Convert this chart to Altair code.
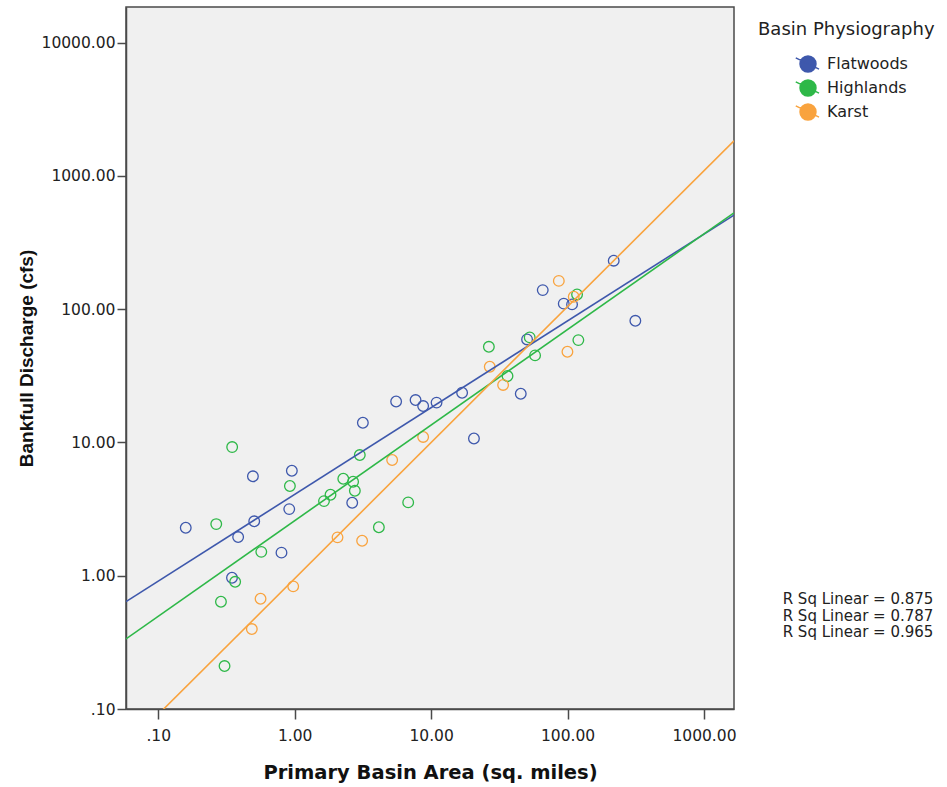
import numpy as np
import pandas as pd
import altair as alt

# Basin groups and their colours
basins = ["Flatwoods", "Highlands", "Karst"]
colors = ["#3E58AC", "#2EB848", "#F9A33E"]
r_squared = [0.875, 0.787, 0.965]

# Primary basin area (sq. miles) and bankfull discharge (cfs) per basin group
flatwoods_area = [0.159, 0.385, 0.505, 0.494, 0.953, 0.912, 0.80, 0.347, 2.64, 3.16,
                  5.54, 7.69, 8.74, 10.96, 16.87, 20.6, 45.4, 50.5, 65.8, 93.8,
                  107.9, 218, 314]
flatwoods_q = [2.29, 1.95, 2.56, 5.57, 6.13, 3.16, 1.49, 0.966, 3.53, 14.06,
               20.3, 20.8, 18.75, 19.9, 23.6, 10.7, 23.2, 59.3, 139, 110,
               108.6, 231, 81.8]
highlands_area = [0.348, 0.922, 0.266, 0.569, 0.366, 0.288, 0.306, 1.64, 1.83, 2.27,
                  2.68, 2.76, 3.00, 4.14, 6.79, 26.5, 36.3, 52.8, 57.8, 120, 117.4]
highlands_q = [9.23, 4.71, 2.44, 1.51, 0.90, 0.638, 0.210, 3.63, 4.05, 5.34,
               5.07, 4.34, 8.04, 2.31, 3.55, 52.2, 31.5, 61.4, 45.0, 58.6, 129]
karst_area = [0.485, 0.562, 0.975, 2.06, 3.12, 5.18, 8.74, 26.9, 33.7, 86.3, 111, 99.8]
karst_q = [0.398, 0.672, 0.832, 1.94, 1.83, 7.38, 11.0, 37.0, 27.0, 163, 124, 47.9]

x_domain = [0.058, 1660]
y_domain = [0.1, 18500]
x_ticks = [0.1, 1, 10, 100, 1000]
y_ticks = [0.1, 1, 10, 100, 1000, 10000]

groups = {
    "Flatwoods": (flatwoods_area, flatwoods_q),
    "Highlands": (highlands_area, highlands_q),
    "Karst": (karst_area, karst_q),
}

pts = pd.concat(
    [pd.DataFrame({"basin": b, "area": a, "q": q}) for b, (a, q) in groups.items()],
    ignore_index=True,
)

# Least-squares fit of log10(Q) on log10(area), drawn across the whole x range
fit_rows = []
for b, (a, q) in groups.items():
    slope, intercept = np.polyfit(np.log10(a), np.log10(q), 1)
    for xv in x_domain:
        fit_rows.append({"basin": b, "area": xv, "q": 10 ** (intercept + slope * np.log10(xv))})
fits = pd.DataFrame(fit_rows)

x_scale = alt.Scale(type="log", domain=x_domain, nice=False)
y_scale = alt.Scale(type="log", domain=y_domain, nice=False)
color_scale = alt.Scale(domain=basins, range=colors)

label_expr = "datum.value < 1 ? '.10' : format(datum.value, '.2f')"

x_axis = alt.Axis(
    values=x_ticks, labelExpr=label_expr, title="Primary Basin Area (sq. miles)",
    grid=False, tickSize=10, labelPadding=9, labelFlush=False,
    titleFont="DejaVu Sans", titleFontSize=19.5, titleFontWeight="bold",
    titlePadding=20,
)
y_axis = alt.Axis(
    values=y_ticks, labelExpr=label_expr, title="Bankfull Discharge (cfs)",
    grid=False, tickSize=9, labelPadding=2, labelFlush=False,
    titleFont="Liberation Sans", titleFontSize=19, titleFontWeight="bold",
    titlePadding=5,
)

# Legend glyph: filled circle with a short slanted line through it
legend_symbol = "M-1,-0.5L0.9,0.42M0.65,0A0.65,0.65,0,1,1,-0.65,0A0.65,0.65,0,1,1,0.65,0Z"
legend = alt.Legend(
    title="Basin Physiography", orient="none", legendX=632, legendY=14, padding=0,
    titleFont="DejaVu Sans", titleFontSize=18, titleFontWeight="normal", titleColor="#222222",
    titlePadding=12, labelFont="DejaVu Sans", labelFontSize=16, labelColor="#222222",
    symbolType=legend_symbol, symbolSize=600, symbolStrokeWidth=1.5,
    symbolOffset=37, labelOffset=6, rowPadding=0,
)

points = alt.Chart(pts).mark_point(
    shape="circle", filled=False, size=113, strokeWidth=1.3, opacity=1
).encode(
    x=alt.X("area:Q", scale=x_scale, axis=x_axis),
    y=alt.Y("q:Q", scale=y_scale, axis=y_axis),
    color=alt.Color("basin:N", scale=color_scale, legend=None),
)

lines = alt.Chart(fits).mark_line(strokeWidth=1.6, clip=True).encode(
    x=alt.X("area:Q", scale=x_scale),
    y=alt.Y("q:Q", scale=y_scale),
    color=alt.Color("basin:N", scale=color_scale, legend=None),
    detail="basin:N",
)

# Empty layer that only carries the legend
legend_layer = alt.Chart(pts).transform_filter("false").mark_point(
    shape=legend_symbol, filled=True, size=600, strokeWidth=1.5, opacity=1
).encode(
    color=alt.Color("basin:N", scale=color_scale, legend=legend),
    stroke=alt.Stroke("basin:N", scale=color_scale, legend=legend),
)

r2_lines = [f"R Sq Linear = {v:.3f}" for v in r_squared]
r2_text = alt.Chart(pd.DataFrame({"k": [0]})).mark_text(
    font="DejaVu Sans", fontSize=15, align="center", baseline="middle",
    lineHeight=16.5, color="#222222",
).encode(
    x=alt.value(732), y=alt.value(592), text=alt.value(r2_lines),
)

chart = alt.layer(legend_layer, points, lines, r2_text).properties(
    width=608, height=702,
    autosize=alt.AutoSizeParams(type="none"),
    padding={"left": 126, "top": 7, "right": 213, "bottom": 78},
    background="white",
).configure_view(
    fill="#F0F0F0", stroke="#4A4A4A", strokeWidth=1.5,
).configure_axis(
    domainColor="#4A4A4A", domainWidth=1.5, tickColor="#4A4A4A", tickWidth=1.5,
    labelFont="DejaVu Sans", labelFontSize=15.5, labelColor="#222222", titleColor="#111111",
)

chart.save("out.html", embed_options={"renderer": "svg", "actions": False})
